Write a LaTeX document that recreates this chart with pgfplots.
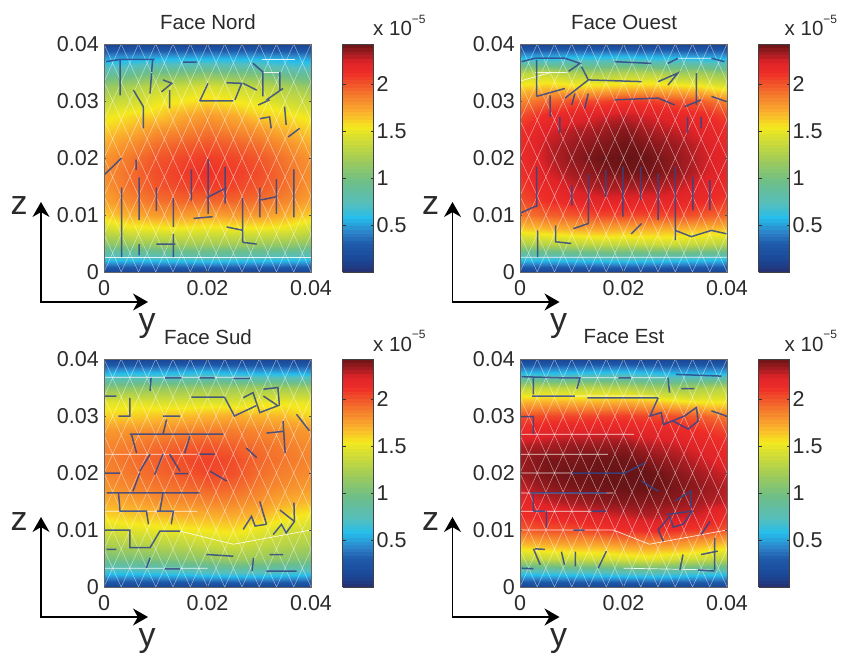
\documentclass[border=0pt]{standalone}
\usepackage{fontspec}
\setmainfont{Liberation Sans}
\usepackage{pgfplots}
\pgfplotsset{compat=1.18}
\usetikzlibrary{arrows.meta}
\definecolor{txt}{HTML}{2B2B2B}
\definecolor{segc}{RGB}{50,70,135}
\pgfplotsset{
  colormap={facejet}{
    rgb255(0cm)=(39,48,112);
    rgb255(2cm)=(27,70,150);
    rgb255(5cm)=(30,90,170);
    rgb255(7cm)=(45,130,200);
    rgb255(9.6cm)=(36,190,236);
    rgb255(12cm)=(85,190,190);
    rgb255(16cm)=(110,190,135);
    rgb255(20cm)=(165,205,85);
    rgb255(24cm)=(220,225,45);
    rgb255(25.5cm)=(245,233,30);
    rgb255(28cm)=(250,178,45);
    rgb255(31cm)=(245,125,45);
    rgb255(35cm)=(238,45,40);
    rgb255(37cm)=(222,35,40);
    rgb255(38cm)=(175,30,35);
    rgb255(40cm)=(105,20,22)
  },
  face/.style={
    scale only axis, width=207pt, height=228pt,
    scaled ticks=false,
    xmin=0,xmax=0.04,ymin=0,ymax=0.04,
    xtick={0,0.02,0.04},xticklabels={0,0.02,0.04},
    ytick={0,0.01,0.02,0.03,0.04},yticklabels={0,0.01,0.02,0.03,0.04},
    tick align=inside, major tick length=2pt,
    tick style={draw=black!70,line width=.3pt},
    axis line style={draw=black!60,line width=.3pt},
    tick label style={font=\fontsize{21.5}{24}\selectfont,text=txt,inner sep=1pt},
    xticklabel style={yshift=-7pt},
    yticklabel style={xshift=-4pt},
    point meta min=0,point meta max=2.43,
    unbounded coords=jump,
    axis on top,
    colorbar sampled,
    colorbar style={
      at={(parent axis.north east)},anchor=north west,
      xshift=23pt,
      samples=65,
      scale only axis,width=31pt,height=228pt,
      scaled ticks=false,
      ytick={0.5,1,1.5,2},yticklabels={0.5,1,1.5,2},
      ytick pos=both,yticklabel pos=right,
      tick align=inside,major tick length=3pt,
      tick style={draw=black!80,line width=.4pt},
      axis line style={draw=black!75,line width=.7pt},
      yticklabel style={font=\fontsize{21.5}{24}\selectfont,text=txt,inner sep=1pt,xshift=2pt},
    },
  },
  field/.style={surf,shader=interp,mesh/cols=9,point meta=explicit},
  wmesh/.style={white,line width=.4pt,opacity=.62,no markers},
  seg/.style={color=segc,line width=1.5pt,opacity=.85,no markers},
  wseg/.style={white,line width=.7pt,opacity=.85,no markers},
}
\newcommand\meshlines{%
\addplot[wmesh] table[row sep=\\,header=false,x expr=\thisrowno{0}*0.001,y expr=\thisrowno{1}*0.001]{
-20 0\\0 40\\nan nan\\-16.67 0\\3.33 40\\nan nan\\-13.33 0\\6.67 40\\nan nan\\-10 0\\10 40\\nan nan\\
-6.67 0\\13.33 40\\nan nan\\-3.33 0\\16.67 40\\nan nan\\0 0\\20 40\\nan nan\\3.33 0\\23.33 40\\nan nan\\
6.67 0\\26.67 40\\nan nan\\10 0\\30 40\\nan nan\\13.33 0\\33.33 40\\nan nan\\16.67 0\\36.67 40\\nan nan\\
20 0\\40 40\\nan nan\\23.33 0\\43.33 40\\nan nan\\26.67 0\\46.67 40\\nan nan\\30 0\\50 40\\nan nan\\
33.33 0\\53.33 40\\nan nan\\36.67 0\\56.67 40\\nan nan\\
60 0\\40 40\\nan nan\\56.67 0\\36.67 40\\nan nan\\53.33 0\\33.33 40\\nan nan\\50 0\\30 40\\nan nan\\
46.67 0\\26.67 40\\nan nan\\43.33 0\\23.33 40\\nan nan\\40 0\\20 40\\nan nan\\36.67 0\\16.67 40\\nan nan\\
33.33 0\\13.33 40\\nan nan\\30 0\\10 40\\nan nan\\26.67 0\\6.67 40\\nan nan\\23.33 0\\3.33 40\\nan nan\\
20 0\\0 40\\nan nan\\16.67 0\\-3.33 40\\nan nan\\13.33 0\\-6.67 40\\nan nan\\10 0\\-10 40\\nan nan\\
6.67 0\\-13.33 40\\nan nan\\3.33 0\\-16.67 40\\
};}
\newcommand\ornament[2]{%
\begin{scope}[x=1pt,y=-1pt,shift={(#1pt,#2pt)}]
 \draw[line width=1.3pt,black,-{Stealth[length=15pt,width=17pt]}] (41,302)--(41,202);
 \draw[line width=1.3pt,black,-{Stealth[length=15pt,width=17pt]}] (40.4,302)--(148,302);
 \node[anchor=base,font=\fontsize{34}{36}\selectfont,inner sep=0pt,text=txt] at (19,215) {z};
 \node[anchor=base,font=\fontsize{34}{36}\selectfont,inner sep=0pt,text=txt] at (147,331) {y};
 \node[anchor=base west,font=\fontsize{20.5}{24}\selectfont,inner sep=0pt,text=txt] at (373,36) {x 10\raisebox{.6em}{\fontsize{12}{12}\selectfont −5}};
\end{scope}}
\begin{document}
\begin{tikzpicture}[x=1pt,y=1pt]
\path[use as bounding box] (0,0) rectangle (850,654);
% Face Nord
\begin{axis}[face,colormap name=facejet,at={(104pt,382pt)},anchor=south west]
\addplot[field] table[row sep=\\,header=false,x expr={mod(\coordindex,9)*0.005},y expr={floor((\coordindex+0.5)/9)*0.0025},meta index=0]{
.1\\.1\\.1\\.1\\.1\\.1\\.1\\.1\\.1\\
.68\\.68\\.70\\.72\\.74\\.72\\.70\\.68\\.66\\
1.10\\1.15\\1.18\\1.20\\1.20\\1.20\\1.18\\1.15\\1.10\\
1.40\\1.50\\1.52\\1.52\\1.50\\1.52\\1.52\\1.50\\1.40\\
1.62\\1.72\\1.78\\1.78\\1.75\\1.78\\1.78\\1.72\\1.62\\
1.75\\1.85\\1.92\\1.95\\1.95\\1.95\\1.92\\1.85\\1.75\\
1.80\\1.92\\2.00\\2.05\\2.08\\2.05\\2.00\\1.92\\1.80\\
1.82\\1.93\\2.03\\2.08\\2.12\\2.08\\2.03\\1.93\\1.82\\
1.80\\1.90\\2.00\\2.05\\2.08\\2.05\\2.00\\1.90\\1.80\\
1.72\\1.82\\1.92\\1.97\\2.00\\1.97\\1.92\\1.82\\1.72\\
1.62\\1.70\\1.80\\1.85\\1.90\\1.85\\1.80\\1.70\\1.62\\
1.50\\1.58\\1.62\\1.72\\1.78\\1.72\\1.62\\1.58\\1.50\\
1.35\\1.40\\1.50\\1.55\\1.60\\1.55\\1.50\\1.40\\1.35\\
1.15\\1.25\\1.35\\1.40\\1.45\\1.40\\1.35\\1.25\\1.15\\
.85\\.90\\1.00\\1.02\\1.05\\1.02\\1.00\\.90\\.85\\
.50\\.52\\.55\\.55\\.55\\.55\\.55\\.52\\.50\\
.1\\.1\\.1\\.1\\.1\\.1\\.1\\.1\\.1\\
};
\meshlines
\addplot[wseg] table[row sep=\\,header=false,x expr=\thisrowno{0}*0.001,y expr=\thisrowno{1}*0.001]{
0 2.6\\40 2.6\\nan nan\\30.5 37.3\\37 37.3\\nan nan\\30.7 35.1\\34 35.1\\
};
\addplot[seg] table[row sep=\\,header=false,x expr=\thisrowno{0}*0.001,y expr=\thisrowno{1}*0.001]{
.4 36.9\\3.1 37.3\\9.8 37.3\\nan nan\\3.1 37.3\\3.1 31\\nan nan\\9.4 37.2\\9.2 35.1\\nan nan\\5.7 31.9\\7.6 29\\7.6 25.2\\nan nan\\
9.2 34.9\\8.9 31.3\\nan nan\\11.4 33.7\\13.1 33.1\\11.1 31.6\\nan nan\\12.7 31.9\\12.7 28.7\\nan nan\\15.3 36.8\\17.9 36.8\\nan nan\\
18.5 30\\20.1 33.1\\nan nan\\23.7 33.2\\26.6 33.1\\25.3 30.2\\nan nan\\18.5 30\\25 30\\nan nan\\28.8 36.6\\30.7 35.1\\30.7 30.8\\nan nan\\
26.9 33.1\\29.5 31.9\\nan nan\\34 35.1\\34 31.9\\nan nan\\31.4 30.2\\34.6 32.2\\nan nan\\29.8 29.3\\32 30.2\\nan nan\\
30.1 26.9\\32 27.2\\32.3 25.2\\nan nan\\34.9 29\\35.2 25.8\\nan nan\\35.6 23.7\\37.8 25.2\\nan nan\\
3.4 14.8\\3.4 2.6\\nan nan\\6.8 16.6\\6.8 9.1\\nan nan\\10.1 14.8\\10.1 10.7\\nan nan\\13.4 13\\13.4 7.9\\nan nan\\16.9 18\\16.9 12.5\\nan nan\\
20.1 19.8\\20.1 10.2\\nan nan\\23.4 18.4\\23.4 12\\nan nan\\26.8 13\\26.8 5.2\\nan nan\\30.1 14.8\\30.1 9.6\\nan nan\\33.3 16.3\\33.3 10.2\\nan nan\\
36.7 18\\36.7 9.6\\nan nan\\13.4 6.7\\13.4 2.6\\nan nan\\10.1 4.9\\13.8 4.9\\nan nan\\6.8 4.9\\6.8 2.9\\nan nan\\23.7 7.9\\26.9 7.3\\nan nan\\
26.8 5.2\\29.5 4.9\\nan nan\\3.4 20\\0 17\\nan nan\\6.2 19.7\\6.2 17.9\\nan nan\\17.3 9.4\\21 9.7\\nan nan\\19.8 13\\23.7 14.8\\nan nan\\30.1 12.6\\33.3 13.2\\
};
\end{axis}
% Face Ouest
\begin{axis}[face,colormap name=facejet,at={(520pt,382pt)},anchor=south west]
\addplot[field] table[row sep=\\,header=false,x expr={mod(\coordindex,9)*0.005},y expr={floor((\coordindex+0.5)/9)*0.0025},meta index=0]{
.1\\.1\\.1\\.1\\.1\\.1\\.1\\.1\\.1\\
.68\\.68\\.70\\.72\\.74\\.72\\.70\\.68\\.66\\
1.25\\1.30\\1.32\\1.35\\1.35\\1.38\\1.40\\1.35\\1.30\\
1.62\\1.68\\1.72\\1.75\\1.72\\1.72\\1.70\\1.68\\1.66\\
1.90\\1.97\\2.00\\2.05\\2.05\\2.05\\2.05\\2.00\\1.95\\
2.02\\2.12\\2.18\\2.22\\2.22\\2.20\\2.20\\2.15\\2.08\\
2.08\\2.18\\2.27\\2.32\\2.32\\2.32\\2.28\\2.22\\2.15\\
2.12\\2.25\\2.33\\2.38\\2.41\\2.41\\2.36\\2.28\\2.20\\
2.14\\2.28\\2.36\\2.42\\2.43\\2.42\\2.36\\2.28\\2.20\\
2.15\\2.28\\2.34\\2.38\\2.42\\2.38\\2.34\\2.27\\2.18\\
2.12\\2.24\\2.30\\2.33\\2.38\\2.32\\2.28\\2.22\\2.15\\
2.02\\2.14\\2.20\\2.25\\2.28\\2.25\\2.20\\2.15\\2.05\\
1.85\\1.95\\2.02\\2.05\\2.10\\2.08\\2.02\\1.98\\1.85\\
1.60\\1.65\\1.60\\1.62\\1.65\\1.65\\1.62\\1.58\\1.48\\
1.30\\1.35\\1.25\\1.22\\1.28\\1.28\\1.20\\1.20\\1.12\\
.58\\.58\\.62\\.62\\.64\\.60\\.60\\.56\\.56\\
.1\\.1\\.1\\.1\\.1\\.1\\.1\\.1\\.1\\
};
\meshlines
\addplot[wseg] table[row sep=\\,header=false,x expr=\thisrowno{0}*0.001,y expr=\thisrowno{1}*0.001]{
0 2.6\\40 2.6\\nan nan\\30.5 37.5\\37 37.5\\nan nan\\2.9 35\\9 35\\nan nan\\0 33.5\\6 35\\
};
\addplot[seg] table[row sep=\\,header=false,x expr=\thisrowno{0}*0.001,y expr=\thisrowno{1}*0.001]{
.3 36.9\\2.9 37.5\\8.7 37.5\\11.6 36.6\\9.4 35.2\\nan nan\\3.2 37.2\\3.2 30.8\\nan nan\\11.9 36\\13.2 33.7\\8.7 30.5\\nan nan\\3.2 30.8\\8.7 32.2\\nan nan\\
5.8 31\\5.8 27.2\\nan nan\\10.6 31.3\\10 29.3\\nan nan\\13.2 31.3\\12.5 28.7\\nan nan\\13.2 33.7\\23.5 33.4\\nan nan\\18.3 36.9\\25.4 36.6\\nan nan\\
28.6 36.6\\30.5 37.5\\nan nan\\37 37.5\\39.5 36.9\\nan nan\\26.7 33.4\\30.5 34.9\\28.6 32.8\\nan nan\\34.1 34.9\\34.1 29.3\\nan nan\\
18.3 30.2\\26.7 30.5\\29.9 29.3\\nan nan\\31.8 29\\35 30.2\\nan nan\\37 30.8\\39.9 29.9\\nan nan\\35 27.2\\35 25.2\\nan nan\\32.4 27.2\\32.4 24.3\\nan nan\\
7.7 27.2\\7.7 24.3\\nan nan\\3.2 18.5\\3.2 11.4\\nan nan\\10 15.2\\10 11.7\\nan nan\\13.2 17.3\\13.2 8.5\\nan nan\\16.6 17.9\\16.6 13.2\\nan nan\\
19.9 18.5\\19.9 9.7\\nan nan\\23.3 18.5\\23.3 12.6\\nan nan\\26.7 17.3\\26.7 9.1\\nan nan\\30 18.5\\30 5.6\\nan nan\\33.4 16.7\\33.4 10.8\\nan nan\\
36.7 16.1\\36.7 10.8\\nan nan\\6.9 8.2\\6.9 5.3\\9.9 5\\nan nan\\3.4 7.3\\3.4 2.6\\nan nan\\10.3 7.6\\13.2 8.5\\nan nan\\0 10.3\\3.4 11.7\\nan nan\\
21.5 6.7\\23.5 8.5\\nan nan\\30 7.3\\33.1 6.2\\37 7.3\\39.9 6.7\\
};
\end{axis}
% Face Sud
\begin{axis}[face,colormap name=facejet,at={(104pt,67pt)},anchor=south west]
\addplot[field] table[row sep=\\,header=false,x expr={mod(\coordindex,9)*0.005},y expr={floor((\coordindex+0.5)/9)*0.0025},meta index=0]{
.1\\.1\\.1\\.1\\.1\\.1\\.1\\.1\\.1\\
.62\\.62\\.64\\.66\\.70\\.72\\.72\\.68\\.65\\
1.00\\1.02\\1.05\\1.08\\1.12\\1.18\\1.15\\1.10\\1.05\\
1.25\\1.28\\1.30\\1.33\\1.38\\1.42\\1.36\\1.30\\1.25\\
1.42\\1.47\\1.50\\1.52\\1.55\\1.58\\1.50\\1.42\\1.40\\
1.60\\1.63\\1.66\\1.70\\1.70\\1.72\\1.68\\1.58\\1.52\\
1.72\\1.75\\1.80\\1.83\\1.85\\1.85\\1.80\\1.72\\1.68\\
1.80\\1.85\\1.90\\1.93\\1.97\\1.95\\1.88\\1.82\\1.78\\
1.85\\1.90\\1.95\\2.00\\2.05\\2.02\\1.93\\1.87\\1.83\\
1.87\\1.92\\1.97\\2.03\\2.06\\2.03\\1.95\\1.90\\1.85\\
1.85\\1.88\\1.93\\1.97\\2.00\\1.97\\1.92\\1.88\\1.83\\
1.78\\1.80\\1.82\\1.85\\1.87\\1.88\\1.85\\1.82\\1.78\\
1.62\\1.62\\1.65\\1.67\\1.70\\1.72\\1.70\\1.68\\1.60\\
1.48\\1.48\\1.45\\1.45\\1.47\\1.45\\1.50\\1.52\\1.50\\
1.10\\1.12\\1.15\\1.15\\1.17\\1.18\\1.20\\1.20\\1.20\\
.56\\.58\\.58\\.60\\.62\\.58\\.56\\.56\\.54\\
.1\\.1\\.1\\.1\\.1\\.1\\.1\\.1\\.1\\
};
\meshlines
\addplot[wseg] table[row sep=\\,header=false,x expr=\thisrowno{0}*0.001,y expr=\thisrowno{1}*0.001]{
0 3.3\\20 3.3\\nan nan\\0 36.8\\28 36.8\\nan nan\\0 23.3\\18 23.3\\nan nan\\0 13.3\\18 13.3\\nan nan\\14.7 9.8\\25 7.5\\40 10\\
};
\addplot[seg] table[row sep=\\,header=false,x expr=\thisrowno{0}*0.001,y expr=\thisrowno{1}*0.001]{
11.8 36.7\\15 36.7\\nan nan\\18.5 36.7\\21.4 36.7\\nan nan\\25 36.6\\28.2 36.6\\nan nan\\9.1 36.7\\8.9 34.4\\nan nan\\0 33.5\\2.4 33.5\\nan nan\\
5 33.2\\5 30\\2.8 30\\nan nan\\16.9 33.3\\23.3 33.3\\nan nan\\11.4 30\\14.7 30\\nan nan\\12.1 29.4\\11.4 26.8\\nan nan\\5 26.8\\23 26.8\\nan nan\\
23.3 33.3\\25.2 30\\29.4 31.8\\nan nan\\26.9 33.2\\28.8 34.1\\30.1 30.6\\33.6 31.8\\30.8 33.5\\nan nan\\30.8 34.7\\33.6 35\\33.9 31.8\\nan nan\\
34.6 29.1\\35 23.5\\nan nan\\31.4 27\\34.6 27.3\\nan nan\\27.5 24.4\\29.5 22.7\\nan nan\\37.2 30.3\\39.7 27.4\\nan nan\\5.3 26.8\\6.3 23.5\\nan nan\\
8.9 23.3\\6.9 20.3\\nan nan\\11.4 23.3\\9.8 19.7\\nan nan\\12.7 23.3\\14.7 20.3\\nan nan\\18.5 23.3\\21.4 23.3\\nan nan\\16.6 26.5\\15.6 23.5\\nan nan\\
.2 20\\3.1 20\\nan nan\\6.9 20\\5.6 16.8\\nan nan\\13.7 19.9\\16.2 19.9\\nan nan\\20.5 20.3\\23.7 18.6\\nan nan\\.5 16.5\\18.5 16.5\\nan nan\\
2.8 16.5\\3.1 13.3\\8.2 13.3\\8.6 11\\nan nan\\10.2 13.3\\13.4 13.3\\13 11\\nan nan\\11.4 16.5\\10.8 13.3\\nan nan\\0 10\\5 10\\5 6.9\\8.9 6.9\\10.8 9.8\\14.7 9.8\\nan nan\\
26.9 10.1\\28.5 12.4\\29.2 10.7\\31.4 11\\nan nan\\30.1 15\\31.4 11\\nan nan\\32.7 9.2\\34.3 11\\35.2 9.5\\36.8 11.5\\36.7 14.8\\nan nan\\34 13.5\\36.8 11.5\\nan nan\\
28.9 5.1\\28.6 2.8\\nan nan\\31.4 2.8\\37.2 2.8\\nan nan\\11.7 3.2\\14.7 3.2\\nan nan\\32 5.7\\34.6 5.7\\nan nan\\19.8 5.7\\25 5.4\\nan nan\\.5 6.6\\2.4 6.6\\nan nan\\8.9 5.1\\8.2 3.3\\
};
\end{axis}
% Face Est
\begin{axis}[face,colormap name=facejet,at={(520pt,67pt)},anchor=south west]
\addplot[field] table[row sep=\\,header=false,x expr={mod(\coordindex,9)*0.005},y expr={floor((\coordindex+0.5)/9)*0.0025},meta index=0]{
.1\\.1\\.1\\.1\\.1\\.1\\.1\\.1\\.1\\
.65\\.66\\.68\\.70\\.72\\.75\\.72\\.68\\.65\\
1.30\\1.35\\1.38\\1.40\\1.45\\1.48\\1.42\\1.38\\1.30\\
1.68\\1.72\\1.75\\1.75\\1.80\\1.82\\1.80\\1.72\\1.65\\
1.98\\2.02\\2.02\\2.08\\2.12\\2.15\\2.12\\2.08\\2.00\\
2.12\\2.17\\2.20\\2.24\\2.27\\2.30\\2.28\\2.25\\2.15\\
2.18\\2.27\\2.32\\2.36\\2.38\\2.38\\2.36\\2.32\\2.28\\
2.28\\2.36\\2.40\\2.42\\2.44\\2.43\\2.40\\2.36\\2.30\\
2.34\\2.40\\2.42\\2.44\\2.45\\2.43\\2.38\\2.32\\2.26\\
2.34\\2.40\\2.40\\2.42\\2.42\\2.38\\2.33\\2.27\\2.20\\
2.30\\2.32\\2.35\\2.35\\2.36\\2.30\\2.27\\2.22\\2.14\\
2.16\\2.20\\2.22\\2.23\\2.22\\2.20\\2.17\\2.12\\2.05\\
2.02\\2.05\\2.05\\2.06\\2.08\\2.05\\2.02\\1.98\\1.88\\
1.70\\1.72\\1.70\\1.70\\1.72\\1.68\\1.60\\1.55\\1.55\\
1.32\\1.35\\1.33\\1.33\\1.30\\1.22\\1.20\\1.25\\1.30\\
.58\\.58\\.60\\.62\\.64\\.60\\.56\\.56\\.56\\
.1\\.1\\.1\\.1\\.1\\.1\\.1\\.1\\.1\\
};
\meshlines
\addplot[wseg] table[row sep=\\,header=false,x expr=\thisrowno{0}*0.001,y expr=\thisrowno{1}*0.001]{
0 23.3\\17 23.3\\nan nan\\0 26.8\\22 26.8\\nan nan\\0 16.5\\18 16.5\\nan nan\\0 20\\10 20\\nan nan\\0 13.3\\14 13.3\\nan nan\\0 10\\18 10\\25 7.5\\40 10\\nan nan\\2 33.5\\26 33.5\\nan nan\\5 36.7\\28 36.7\\nan nan\\20 3.3\\37 3\\
};
\addplot[seg] table[row sep=\\,header=false,x expr=\thisrowno{0}*0.001,y expr=\thisrowno{1}*0.001]{
.3 36.9\\8 36.7\\11.6 36.7\\11 34.8\\nan nan\\19 36.7\\21.4 36.7\\nan nan\\2.6 36.7\\2.6 33.8\\nan nan\\2.3 33.5\\10.6 33.5\\nan nan\\13 33.2\\26.7 33.2\\nan nan\\
26.7 33.2\\25.1 30\\27.3 30.6\\27.7 28.5\\31.8 30\\nan nan\\28.6 36.7\\28.9 34.1\\nan nan\\30.1 37.3\\38.9 37\\nan nan\\31.2 34.8\\33.7 34.8\\nan nan\\
31.8 30\\34.1 31.5\\34.4 29.1\\32.5 27.7\\29.6 29.1\\nan nan\\37 30.9\\39.9 30\\nan nan\\0 29.9\\2.6 29.9\\2.6 26.8\\nan nan\\10 20\\20.3 20\\24.2 21.8\\nan nan\\
23.5 18.6\\26.7 16.8\\nan nan\\29.9 15.1\\33 16.8\\33 13.9\\nan nan\\28.9 12.4\\26.7 10\\27.7 8\\nan nan\\28.9 12.4\\29.6 10.5\\31.5 11\\33.3 13.3\\28.2 12.7\\nan nan\\
36.7 11.5\\35 9.2\\nan nan\\2 16.5\\16.7 16.5\\nan nan\\2.6 16.5\\2.6 13.3\\nan nan\\2.6 13.3\\4.8 13.3\\nan nan\\5.1 13.3\\5.1 10.4\\nan nan\\13.8 13.3\\16.7 13.3\\nan nan\\
10.3 10\\12.5 10\\nan nan\\2.9 6.7\\4.8 6.6\\nan nan\\2.6 6.7\\3.9 3.9\\nan nan\\8 6.2\\8.6 3.9\\nan nan\\10.7 6.2\\10.7 3.6\\nan nan\\16.7 6.3\\15.1 3.3\\nan nan\\.3 3.3\\2.6 3.2\\nan nan\\
31.5 5.7\\30.9 3\\nan nan\\37.6 8.6\\37.6 3\\nan nan\\34.4 3\\37.6 2.8\\nan nan\\35 5.7\\38.2 6.3\\
};
\end{axis}
\ornament{0}{654}
\ornament{411.5}{654}
\ornament{0}{339}
\ornament{411.5}{339}
\node[font=\fontsize{20.5}{24}\selectfont,text=txt,inner sep=0pt] at (208,632) {Face Nord};
\node[font=\fontsize{20.5}{24}\selectfont,text=txt,inner sep=0pt] at (624,632) {Face Ouest};
\node[font=\fontsize{20.5}{24}\selectfont,text=txt,inner sep=0pt] at (208,317) {Face Sud};
\node[font=\fontsize{20.5}{24}\selectfont,text=txt,inner sep=0pt] at (624,317) {Face Est};
\end{tikzpicture}
\end{document}
